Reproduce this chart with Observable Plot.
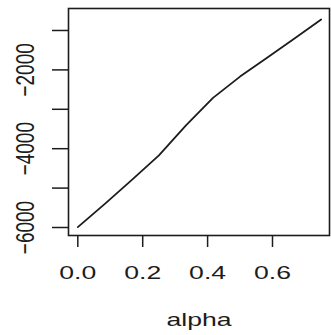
<!DOCTYPE html>
<html>
<head>
<meta charset="utf-8">
<script src="https://cdn.jsdelivr.net/npm/d3@7"></script>
<script src="https://cdn.jsdelivr.net/npm/@observablehq/plot@0.6"></script>
<style>
  body { margin: 0; background: #fff; }
  #chart svg { font-family: "Liberation Sans", Arial, Helvetica, sans-serif; }
</style>
</head>
<body>
<div id="chart"></div>
<script>
// Log-likelihood profile over the smoothing parameter alpha
const alpha = [0, 1/12, 2/12, 3/12, 4/12, 5/12, 6/12, 7/12, 8/12, 9/12];
const loglik = [-5990, -5400, -4790, -4170, -3410, -2710, -2170, -1690, -1210, -720];

// Axis ticks and labels
const xTicks = [0, 0.2, 0.4, 0.6];
const yTicks = [-6000, -5000, -4000, -3000, -2000, -1000];
const yTickLabels = [-6000, -4000, -2000];
const xLabel = "alpha";

const data = alpha.map((a, i) => ({alpha: a, loglik: loglik[i]}));
const ink = "#1c1c1c";
const fmtY = d => (d < 0 ? "\u2212" : "") + Math.abs(d);

const chart = Plot.plot({
  width: 331,
  height: 335,
  marginLeft: 68,
  marginRight: 2,
  marginTop: 8,
  marginBottom: 100,
  style: {fontSize: "19px", color: ink, background: "#fff", overflow: "visible"},
  x: {domain: [-0.0287, 0.7757]},
  y: {domain: [-6203, -442]},
  marks: [
    Plot.axisX({ticks: xTicks, tickSize: 12, tickPadding: 18, tickFormat: d3.format(".1f"),
                label: null, stroke: ink, strokeWidth: 1.5, fill: ink}),
    Plot.axisY({ticks: yTicks, tickSize: 16, tickFormat: () => "", label: null,
                stroke: ink, strokeWidth: 1.5}),
    Plot.text(yTickLabels, {y: d => d, text: fmtY, frameAnchor: "left", dx: -35,
                rotate: -90, textAnchor: "middle", lineAnchor: "bottom", fill: ink}),
    Plot.text([xLabel], {text: d => d, frameAnchor: "bottom", dy: 77, lineAnchor: "top",
                fill: ink}),
    Plot.line(data, {x: "alpha", y: "loglik", stroke: ink, strokeWidth: 1.8}),
    Plot.frame({stroke: ink, strokeWidth: 1.6})
  ]
});

document.getElementById("chart").append(chart);

// Widen the lettering horizontally about each label's anchor point
const sx = 1.4;
chart.querySelectorAll("text").forEach(el => {
  if (!el.textContent) return;
  const parent = el.parentNode;
  const m = parent.getCTM().inverse().multiply(el.getCTM());
  const cx = m.e;
  const t = el.getAttribute("transform") || "";
  el.setAttribute("transform", `translate(${cx},0) scale(${sx},1) translate(${-cx},0) ${t}`);
});
</script>
</body>
</html>
